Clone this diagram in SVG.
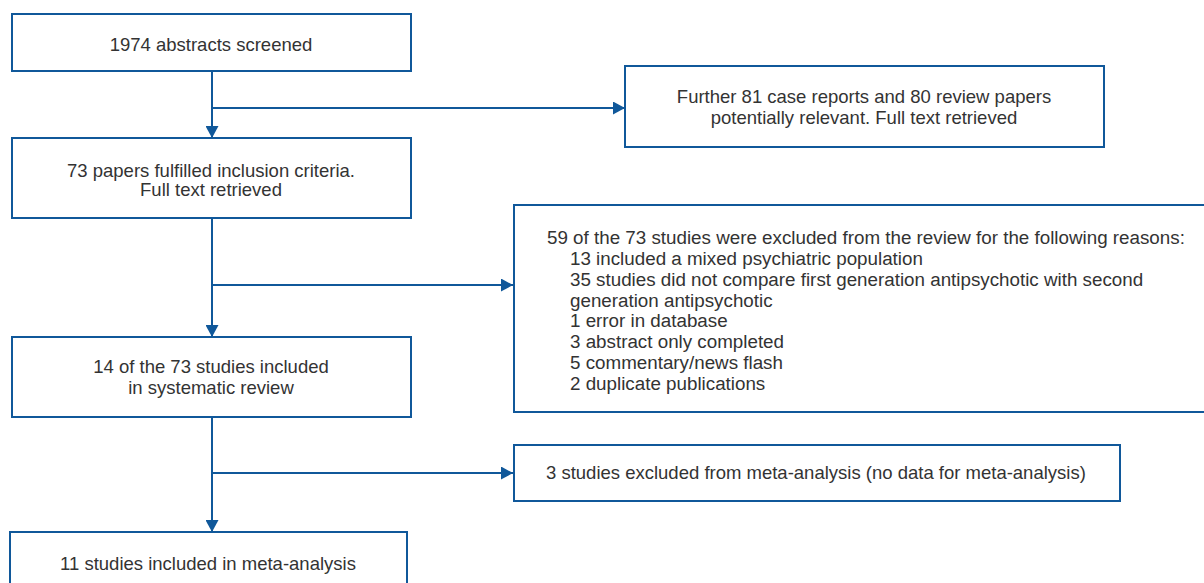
<svg xmlns="http://www.w3.org/2000/svg" width="1204" height="583" viewBox="0 0 1204 583">
<style>
.box{fill:#fff;stroke:#10589a;stroke-width:2}
.ln{fill:none;stroke:#10589a;stroke-width:2}
text{font-family:"Liberation Sans",Arial,sans-serif;font-size:18.5px;fill:#333}
.c{text-anchor:middle}
.r{font-size:18.8px}
</style>
<defs>
<marker id="ah" viewBox="0 0 12 13" refX="12" refY="6.5" markerWidth="12" markerHeight="13" markerUnits="userSpaceOnUse" orient="auto">
<path d="M0,0 L12,6.5 L0,13 Z" fill="#10589a"/>
</marker>
</defs>
<g id="connectors">
<line class="ln" x1="212" y1="71" x2="212" y2="138" marker-end="url(#ah)"/>
<line class="ln" x1="212" y1="108" x2="625" y2="108" marker-end="url(#ah)"/>
<line class="ln" x1="212" y1="218" x2="212" y2="337" marker-end="url(#ah)"/>
<line class="ln" x1="212" y1="285" x2="513" y2="285" marker-end="url(#ah)"/>
<line class="ln" x1="212" y1="417" x2="212" y2="532" marker-end="url(#ah)"/>
<line class="ln" x1="212" y1="473" x2="513" y2="473" marker-end="url(#ah)"/>
</g>
<g id="n1">
<rect class="box" x="12" y="14" width="399" height="57"/>
<text class="c" x="211" y="51">1974 abstracts screened</text>
</g>
<g id="n2">
<rect class="box" x="625" y="66" width="479" height="81"/>
<text class="c" x="864" y="103">Further 81 case reports and 80 review papers</text>
<text class="c" x="864" y="124">potentially relevant. Full text retrieved</text>
</g>
<g id="n3">
<rect class="box" x="12" y="138" width="399" height="80"/>
<text class="c" x="211" y="177">73 papers fulfilled inclusion criteria.</text>
<text class="c" x="211" y="196">Full text retrieved</text>
</g>
<g id="n4">
<rect class="box" x="514" y="205" width="700" height="207"/>
<text class="r" x="547" y="244">59 of the 73 studies were excluded from the review for the following reasons:</text>
<text class="r" x="570" y="265">13 included a mixed psychiatric population</text>
<text class="r" x="570" y="286">35 studies did not compare first generation antipsychotic with second</text>
<text class="r" x="570" y="306.5">generation antipsychotic</text>
<text class="r" x="570" y="327">1 error in database</text>
<text class="r" x="570" y="348">3 abstract only completed</text>
<text class="r" x="570" y="369">5 commentary/news flash</text>
<text class="r" x="570" y="390">2 duplicate publications</text>
</g>
<g id="n5">
<rect class="box" x="12" y="337" width="399" height="80"/>
<text class="c" x="211" y="373">14 of the 73 studies included</text>
<text class="c" x="211" y="394">in systematic review</text>
</g>
<g id="n6">
<rect class="box" x="514" y="445" width="606" height="56"/>
<text x="546" y="479">3 studies excluded from meta-analysis (no data for meta-analysis)</text>
</g>
<g id="n7">
<rect class="box" x="10" y="532" width="397" height="70"/>
<text class="c" x="208" y="570">11 studies included in meta-analysis</text>
</g>
</svg>
